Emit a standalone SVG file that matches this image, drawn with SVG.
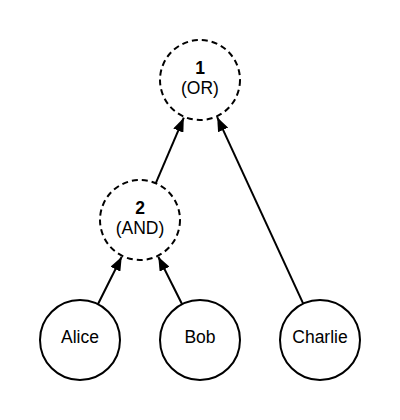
<svg xmlns="http://www.w3.org/2000/svg" width="400" height="420" viewBox="0 0 400 420">
  <defs>
    <style>
      .node { fill: #ffffff; stroke: #000000; stroke-width: 2; }
      .gate { stroke-dasharray: 6 4; }
      .edge { fill: none; stroke: #000000; stroke-width: 2; marker-end: url(#arrow); }
      text { font-family: "Liberation Sans", Arial, sans-serif; font-size: 17.5px; fill: #000000; text-anchor: middle; }
      .num { font-weight: bold; }
    </style>
    <marker id="arrow" markerUnits="userSpaceOnUse" markerWidth="14" markerHeight="11" refX="14" refY="5.5" orient="auto">
      <path d="M0,0 L14,5.5 L0,11 z" fill="#000000"/>
    </marker>
  </defs>
  <rect width="400" height="420" fill="#ffffff"/>
  <g id="connectors">
    <line class="edge" x1="97.9" y1="304.2" x2="121.7" y2="256.7"/>
    <line class="edge" x1="182.1" y1="304.2" x2="158.3" y2="256.7"/>
    <line class="edge" x1="155.8" y1="183.2" x2="183.8" y2="117.7"/>
    <line class="edge" x1="303.2" y1="303.7" x2="217.2" y2="117.2"/>
  </g>
  <g id="node-1">
    <circle class="node gate" cx="200" cy="80" r="40"/>
    <text class="num" x="200" y="74">1</text>
    <text x="200" y="94">(OR)</text>
  </g>
  <g id="node-2">
    <circle class="node gate" cx="140" cy="220" r="40"/>
    <text class="num" x="140" y="214">2</text>
    <text x="140" y="234">(AND)</text>
  </g>
  <g id="node-alice">
    <circle class="node" cx="80" cy="340" r="40"/>
    <text x="80" y="343">Alice</text>
  </g>
  <g id="node-bob">
    <circle class="node" cx="200" cy="340" r="40"/>
    <text x="200" y="343">Bob</text>
  </g>
  <g id="node-charlie">
    <circle class="node" cx="320" cy="340" r="40"/>
    <text x="320" y="343">Charlie</text>
  </g>
</svg>
